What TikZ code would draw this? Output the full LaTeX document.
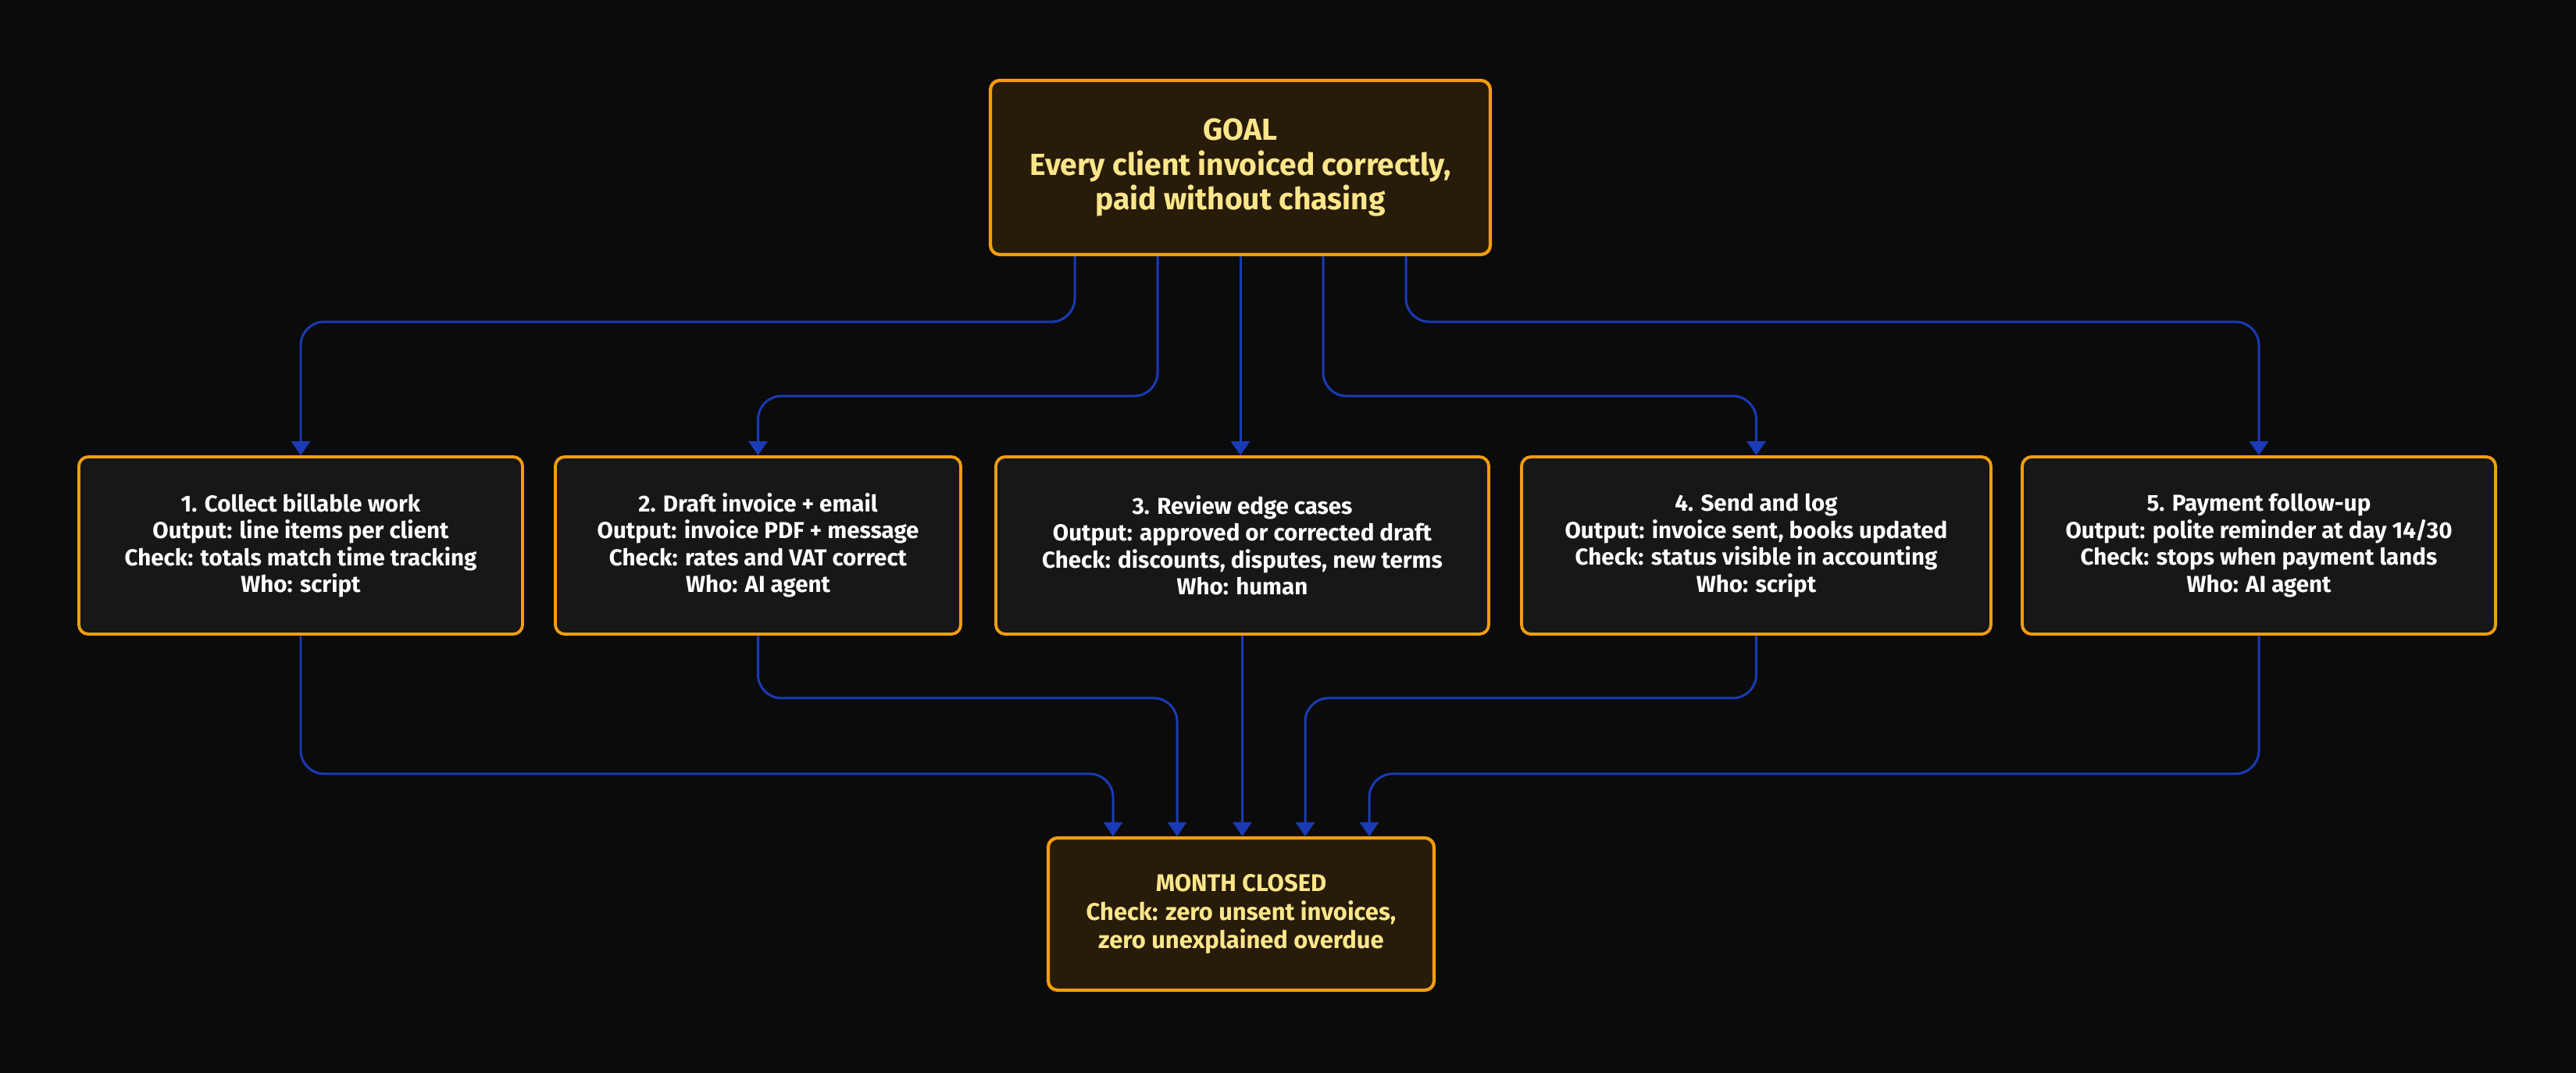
\documentclass[tikz,border=0pt]{standalone}
\usepackage{fontspec}
\setmainfont{Fira Sans}
\usetikzlibrary{arrows.meta, calc}
\definecolor{bgdark}{HTML}{0B0B0B}
\definecolor{goalfill}{HTML}{271B09}
\definecolor{stepfill}{HTML}{171717}
\definecolor{amber}{HTML}{F29D12}
\definecolor{paleyellow}{HTML}{FDE68A}
\definecolor{linkblue}{HTML}{1A3BB5}
\tikzset{
  goalbox/.style={draw=amber, line width=1.2pt, fill=goalfill, rounded corners=0.12cm,
    text=paleyellow, align=center, font=\bfseries\fontsize{11.1}{12.8}\selectfont},
  stepbox/.style={draw=amber, line width=1.1pt, fill=stepfill, rounded corners=0.12cm,
    text=white, align=center, minimum height=2.27cm, font=\bfseries\fontsize{8.4}{9.8}\selectfont},
  flow/.style={draw=linkblue, line width=0.85pt, rounded corners=0.3cm,
    -{Triangle[width=0.24cm, length=0.18cm]}},
}
\begin{document}
\begin{tikzpicture}
    \fill[bgdark] (0,0) rectangle (32.98,13.74);
    \useasboundingbox (0,0) rectangle (32.98,13.74);
    % goal and end state
    \node[goalbox, minimum width=6.40cm, minimum height=2.23cm] (goal) at (15.88,11.595)
        {GOAL\\Every client invoiced correctly,\\paid without chasing};
    \node[goalbox, minimum width=4.94cm, minimum height=1.95cm,
        font=\bfseries\fontsize{8.8}{10.4}\selectfont] (done) at (15.89,2.035)
        {MONTH CLOSED\\Check: zero unsent invoices,\\zero unexplained overdue};
    % steps
    \node[stepbox, minimum width=5.68cm] (s1) at (3.85,6.755)
        {1. Collect billable work\\Output: line items per client\\Check: totals match time tracking\\Who: script};
    \node[stepbox, minimum width=5.19cm] (s2) at (9.705,6.755)
        {2. Draft invoice + email\\Output: invoice PDF + message\\Check: rates and VAT correct\\Who: AI agent};
    \node[stepbox, minimum width=6.31cm] (s3) at (15.905,6.755)
        {3. Review edge cases\\Output: approved or corrected draft\\Check: discounts, disputes, new terms\\Who: human};
    \node[stepbox, minimum width=6.01cm] (s4) at (22.485,6.755)
        {4. Send and log\\Output: invoice sent, books updated\\Check: status visible in accounting\\Who: script};
    \node[stepbox, minimum width=6.06cm] (s5) at (28.92,6.755)
        {5. Payment follow-up\\Output: polite reminder at day 14/30\\Check: stops when payment lands\\Who: AI agent};
    % goal -> steps
    \draw[flow] ([xshift=-2.12cm]goal.south) -- ++(0,-0.84) -| (s1.north);
    \draw[flow] ([xshift=-1.06cm]goal.south) -- ++(0,-1.79) -| (s2.north);
    \draw[flow] (goal.south) -- (goal.south |- s3.north);
    \draw[flow] ([xshift=1.06cm]goal.south) -- ++(0,-1.79) -| (s4.north);
    \draw[flow] ([xshift=2.12cm]goal.south) -- ++(0,-0.84) -| (s5.north);
    % steps -> month closed
    \draw[flow] (s1.south) -- ++(0,-1.77) -| ([xshift=-1.64cm]done.north);
    \draw[flow] (s2.south) -- ++(0,-0.80) -| ([xshift=-0.82cm]done.north);
    \draw[flow] (s3.south) -- (s3.south |- done.north);
    \draw[flow] (s4.south) -- ++(0,-0.80) -| ([xshift=0.82cm]done.north);
    \draw[flow] (s5.south) -- ++(0,-1.77) -| ([xshift=1.64cm]done.north);
\end{tikzpicture}
\end{document}
